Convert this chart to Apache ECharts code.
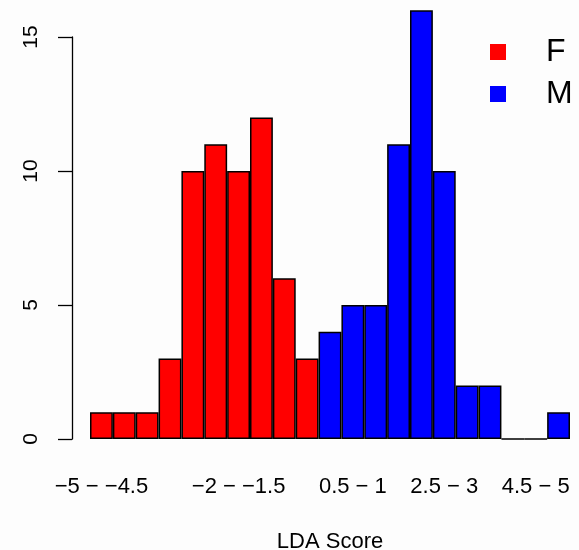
<!DOCTYPE html>
<html>
<head>
<meta charset="utf-8">
<script src="https://cdn.jsdelivr.net/npm/echarts@6/dist/echarts.min.js"></script>
<style>
html,body{margin:0;padding:0;background:#fdfdfd;}
#chart{width:579px;height:550px;}
</style>
</head>
<body>
<div id="chart"></div>
<script>
// Histogram bins (LDA score ranges)
var categories = ['−5 − −4.5','−4.5 − −4','−4 − −3.5','−3.5 − −3','−3 − −2.5','−2.5 − −2','−2 − −1.5','−1.5 − −1','−1 − −0.5','−0.5 − 0','0 − 0.5','0.5 − 1','1 − 1.5','1.5 − 2','2 − 2.5','2.5 − 3','3 − 3.5','3.5 − 4','4 − 4.5','4.5 − 5','5 − 5.5'];
// Counts per bin
var valuesF = [1,1,1,3,10,11,10,12,6,3,null,null,null,null,null,null,null,null,null,null,null];
var valuesM = [null,null,null,null,null,null,null,null,null,null,4,5,5,11,16,10,2,2,0,0,1];
// Tick labels shown on the x axis (indices into categories) and y ticks
var shownLabelIdx = [0,6,11,15,19];
var yTicks = [0,5,10,15];

var chart = echarts.init(document.getElementById('chart'), null, {renderer:'canvas'});
var font = 'Liberation Sans, Arial, sans-serif';
chart.setOption({
  backgroundColor: '#fdfdfd',
  animation: false,
  grid: {left: 90, right: 9, top: 37, bottom: 111, containLabel: false, outerBoundsMode: 'none'},
  legend: {
    orient: 'vertical',
    left: 485, top: 31,
    itemWidth: 16, itemHeight: 16, icon: 'rect',
    itemGap: 10,
    itemStyle: {borderWidth: 0},
    textStyle: {fontFamily: font, fontSize: 32, color: '#000', padding: [0,0,0,35]},
    data: ['F','M']
  },
  xAxis: {
    type: 'category',
    data: categories,
    axisLine: {show: false},
    axisTick: {show: false},
    axisLabel: {
      interval: function(i){ return shownLabelIdx.indexOf(i) >= 0; },
      margin: 37, fontFamily: font, fontSize: 22, color: '#000'
    },
    name: 'LDA Score',
    nameLocation: 'middle',
    nameGap: 92,
    nameTextStyle: {fontFamily: font, fontSize: 22, color: '#000'}
  },
  yAxis: {
    type: 'value',
    min: yTicks[0], max: yTicks[yTicks.length-1], interval: 5,
    offset: 18,
    splitLine: {show: false},
    axisLine: {show: true, lineStyle: {color: '#000', width: 1.3}},
    axisTick: {show: true, length: 14, lineStyle: {color: '#000', width: 1.3}},
    axisLabel: {rotate: 90, margin: 30, fontFamily: font, fontSize: 21, color: '#000'}
  },
  series: [
    {name: 'F', type: 'bar', data: valuesF, barGap: '-100%', barCategoryGap: 0, clip: false,
     itemStyle: {color: '#ff0000', borderColor: '#000', borderWidth: 1.5}},
    {name: 'M', type: 'bar', data: valuesM, barGap: '-100%', barCategoryGap: 0, clip: false,
     itemStyle: {color: '#0000ff', borderColor: '#000', borderWidth: 1.5}}
  ]
});
</script>
</body>
</html>
